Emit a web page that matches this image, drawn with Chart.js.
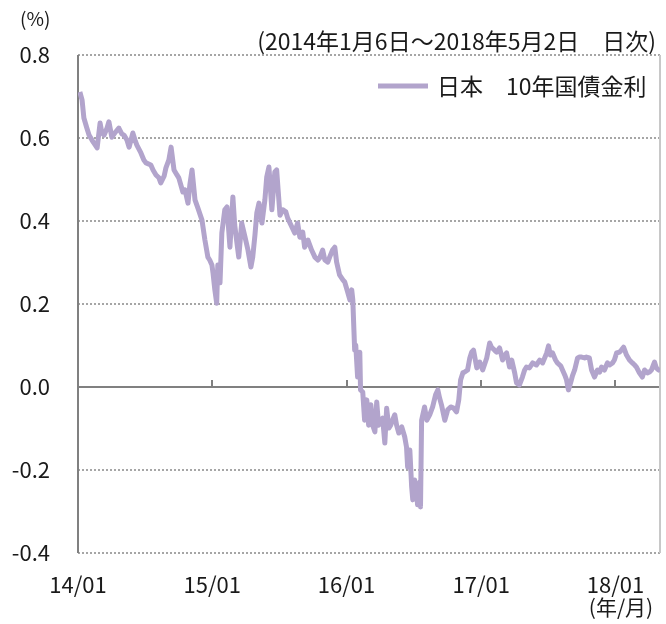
<!DOCTYPE html>
<html lang="ja">
<head>
<meta charset="utf-8">
<script src="https://cdn.jsdelivr.net/npm/chart.js@4.4.1/dist/chart.umd.min.js"></script>
<style>
  html, body { margin: 0; padding: 0; background: #fff; }
  #wrap { width: 666px; height: 624px; }
</style>
</head>
<body>
<div id="wrap"><canvas id="yieldChart" width="666" height="624"></canvas></div>
<script>
// days counted from 2014-01-01
const dayOffsets = [
  5, 11, 16, 24, 30, 38, 43, 52, 60, 65,
  71, 79, 84, 92, 100, 111, 119, 125, 133, 139,
  149, 155, 160, 171, 179, 185, 198, 204, 212, 220,
  225, 234, 239, 247, 253, 261, 269, 274, 285, 291,
  299, 304, 310, 318, 326, 337, 345, 353, 358, 364,
  367, 372, 377, 380, 386, 391, 399, 405, 413, 421,
  426, 432, 437, 445, 454, 462, 470, 475, 481, 486,
  492, 500, 508, 513, 519, 527, 535, 540, 549, 557,
  565, 570, 581, 589, 597, 603, 611, 616, 625, 630,
  635, 644, 652, 657, 665, 671, 679, 684, 692, 698,
  703, 711, 720, 725, 733, 739, 744, 747, 750, 752,
  755, 760, 766, 768, 774, 779, 785, 790, 796, 801,
  807, 812, 817, 823, 828, 834, 839, 845, 850, 855,
  861, 866, 872, 880, 888, 893, 896, 902, 907, 910,
  915, 921, 923, 929, 931, 934, 942, 948, 956, 964,
  972, 978, 983, 988, 997, 1005, 1013, 1021, 1029, 1035,
  1040, 1046, 1051, 1059, 1065, 1070, 1075, 1084, 1092, 1100,
  1111, 1119, 1124, 1132, 1138, 1146, 1154, 1160, 1165, 1173,
  1179, 1187, 1192, 1200, 1208, 1214, 1219, 1227, 1236, 1246,
  1255, 1263, 1274, 1279, 1284, 1290, 1298, 1303, 1312, 1317,
  1323, 1328, 1333, 1339, 1344, 1350, 1358, 1363, 1369, 1377,
  1382, 1390, 1396, 1404, 1412, 1418, 1423, 1431, 1439, 1445,
  1453, 1458, 1464, 1472, 1477, 1483, 1491, 1499, 1507, 1513,
  1518, 1526, 1534, 1540, 1548, 1553, 1559, 1567, 1572, 1578, 1582
];
const yields = [
  0.711, 0.692, 0.648, 0.624, 0.607, 0.595, 0.588, 0.576, 0.636, 0.612,
  0.607, 0.624, 0.639, 0.602, 0.612, 0.624, 0.610, 0.607, 0.595, 0.578,
  0.612, 0.595, 0.583, 0.564, 0.547, 0.540, 0.535, 0.523, 0.511, 0.504,
  0.492, 0.508, 0.528, 0.547, 0.578, 0.523, 0.511, 0.504, 0.470, 0.475,
  0.443, 0.487, 0.523, 0.451, 0.431, 0.402, 0.354, 0.313, 0.306, 0.294,
  0.275, 0.234, 0.202, 0.294, 0.251, 0.371, 0.427, 0.434, 0.337, 0.458,
  0.390, 0.347, 0.313, 0.395, 0.361, 0.330, 0.289, 0.313, 0.366, 0.419,
  0.443, 0.395, 0.451, 0.506, 0.530, 0.427, 0.518, 0.523, 0.414, 0.427,
  0.422, 0.407, 0.386, 0.371, 0.395, 0.361, 0.373, 0.337, 0.354, 0.342,
  0.330, 0.313, 0.306, 0.311, 0.330, 0.306, 0.301, 0.313, 0.330, 0.337,
  0.301, 0.270, 0.258, 0.253, 0.229, 0.210, 0.234, 0.210, 0.137, 0.089,
  0.101, 0.024, 0.084, -0.007, -0.012, -0.080, -0.031, -0.092, -0.043, -0.092,
  -0.108, -0.036, -0.092, -0.080, -0.075, -0.135, -0.051, -0.099, -0.092, -0.080,
  -0.067, -0.092, -0.111, -0.096, -0.120, -0.145, -0.193, -0.152, -0.241, -0.272,
  -0.224, -0.260, -0.284, -0.229, -0.289, -0.080, -0.048, -0.080, -0.067, -0.048,
  -0.019, -0.007, -0.027, -0.043, -0.080, -0.055, -0.048, -0.051, -0.060, -0.031,
  0.017, 0.034, 0.036, 0.041, 0.070, 0.084, 0.089, 0.046, 0.060, 0.041,
  0.070, 0.106, 0.096, 0.089, 0.084, 0.094, 0.065, 0.077, 0.082, 0.048,
  0.065, 0.034, 0.010, 0.005, 0.024, 0.041, 0.048, 0.046, 0.058, 0.053,
  0.065, 0.058, 0.082, 0.099, 0.077, 0.082, 0.065, 0.058, 0.051, 0.041,
  0.029, 0.017, -0.007, 0.010, 0.027, 0.041, 0.070, 0.072, 0.072, 0.070,
  0.072, 0.070, 0.041, 0.024, 0.041, 0.036, 0.048, 0.041, 0.058, 0.053,
  0.058, 0.065, 0.082, 0.084, 0.089, 0.096, 0.077, 0.065, 0.058, 0.053,
  0.048, 0.034, 0.024, 0.041, 0.034, 0.036, 0.041, 0.060, 0.046, 0.041, 0.045
];
const yearTicks = [0, 365, 730, 1096, 1461];
const yearLabels = ['14/01', '15/01', '16/01', '17/01', '18/01'];
const yTicks = [-0.4, -0.2, 0, 0.2, 0.4, 0.6, 0.8];
const seriesLabel = '日本　10年国債金利';
const periodNote = '(2014年1月6日～2018年5月2日　日次)';
const lastDay = 1582;

const FONT = "'Noto Sans CJK JP', 'Noto Sans', sans-serif";
const lineColor = 'rgb(178,164,204)';

const decor = {
  id: 'decor',
  beforeDatasetsDraw(chart) {
    const { ctx, chartArea: a, scales: { x, y } } = chart;
    ctx.save();
    // grid lines
    yTicks.forEach(v => {
      const py = Math.round(y.getPixelForValue(v));
      ctx.beginPath();
      if (v === 0) {
        ctx.setLineDash([]);
        ctx.strokeStyle = '#808080';
        ctx.lineWidth = 2;
      } else {
        ctx.setLineDash([2, 2]);
        ctx.strokeStyle = '#a6a6a6';
        ctx.lineWidth = 2;
      }
      ctx.moveTo(a.left, py);
      ctx.lineTo(a.right, py);
      ctx.stroke();
    });
    ctx.setLineDash([]);
    // right border
    ctx.strokeStyle = '#c8c8c8';
    ctx.lineWidth = 2;
    ctx.beginPath();
    ctx.moveTo(a.right, a.top);
    ctx.lineTo(a.right, a.bottom);
    ctx.stroke();
    // left axis
    ctx.strokeStyle = '#808080';
    ctx.beginPath();
    ctx.moveTo(a.left, a.top);
    ctx.lineTo(a.left, a.bottom);
    ctx.stroke();
    // year marks on the zero line
    const zy = Math.round(y.getPixelForValue(0));
    yearTicks.slice(1).forEach(d => {
      const px = Math.round(x.getPixelForValue(d));
      ctx.beginPath();
      ctx.moveTo(px, zy);
      ctx.lineTo(px, zy - 7);
      ctx.stroke();
    });
    ctx.restore();
  },
  afterDraw(chart) {
    const { ctx } = chart;
    const ds = chart.data.datasets[0];
    ctx.save();
    ctx.fillStyle = '#1a1a1a';
    ctx.textBaseline = 'middle';
    ctx.font = '19px ' + FONT;
    ctx.textAlign = 'left';
    ctx.fillText('(%)', 20, 19);
    ctx.textAlign = 'right';
    ctx.font = '23px ' + FONT;
    ctx.fillText(periodNote, 656, 41);
    ctx.textAlign = 'center';
    ctx.font = '21px ' + FONT;
    ctx.fillText('(年/月)', 621, 607);
    // legend
    ctx.strokeStyle = ds.borderColor;
    ctx.lineWidth = 5;
    ctx.beginPath();
    ctx.moveTo(378, 86);
    ctx.lineTo(428, 86);
    ctx.stroke();
    ctx.textAlign = 'left';
    ctx.font = '23px ' + FONT;
    ctx.fillText(ds.label, 437, 86);
    ctx.restore();
  }
};

new Chart(document.getElementById('yieldChart'), {
  type: 'line',
  data: {
    datasets: [{
      label: seriesLabel,
      data: dayOffsets.map((d, i) => ({ x: d, y: yields[i] })),
      borderColor: lineColor,
      borderWidth: 5,
      pointRadius: 0,
      tension: 0,
      borderJoinStyle: 'round'
    }]
  },
  options: {
    responsive: false,
    animation: false,
    layout: { padding: { top: 55, right: 6, left: 0, bottom: 0 } },
    plugins: { legend: { display: false }, tooltip: { enabled: false } },
    scales: {
      x: {
        type: 'linear',
        min: 0,
        max: lastDay,
        grid: { display: false },
        border: { display: false },
        afterBuildTicks: s => { s.ticks = yearTicks.map(v => ({ value: v })); },
        afterFit: s => { s.height = 71; },
        ticks: {
          autoSkip: false,
          maxRotation: 0,
          padding: 10,
          color: '#1a1a1a',
          font: { family: FONT, size: 22 },
          callback: v => yearLabels[yearTicks.indexOf(v)]
        }
      },
      y: {
        min: -0.4,
        max: 0.8,
        grid: { display: false },
        border: { display: false },
        afterBuildTicks: s => { s.ticks = yTicks.map(v => ({ value: v })); },
        afterFit: s => { s.width = 78; },
        ticks: {
          padding: 20,
          color: '#1a1a1a',
          font: { family: FONT, size: 22 },
          callback: v => v.toFixed(1)
        }
      }
    }
  },
  plugins: [decor]
});
</script>
</body>
</html>
